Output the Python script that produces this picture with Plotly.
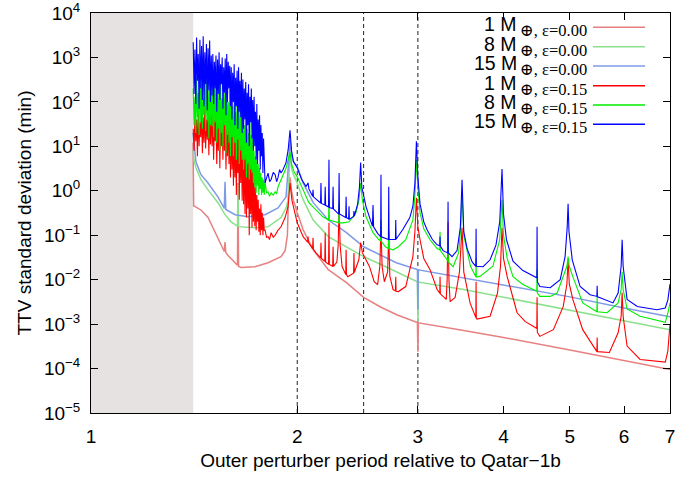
import plotly.graph_objects as go
import math

# ---------------- data ----------------
shade_x = [1.0, 1.41]
dashed_x = [2.0, 2.5, 3.0]

x_ticks = [1, 2, 3, 4, 5, 6, 7]
x_ticktext = ["1", "2", "3", "4", "5", "6", "7"]
y_ticks = [1e-5, 1e-4, 1e-3, 1e-2, 1e-1, 1e0, 1e1, 1e2, 1e3, 1e4]
y_ticktext = ["10<sup>\u22125</sup>", "10<sup>\u22124</sup>", "10<sup>\u22123</sup>",
              "10<sup>\u22122</sup>", "10<sup>\u22121</sup>", "10<sup>0</sup>",
              "10<sup>1</sup>", "10<sup>2</sup>", "10<sup>3</sup>", "10<sup>4</sup>"]

legend_mass = ["1", "8", "15", "1", "8", "15"]
legend_ecc = ["0.00", "0.00", "0.00", "0.15", "0.15", "0.15"]

# eccentricity 0.00 (smooth curves)
lr_x = [1.409, 1.412, 1.419, 1.447, 1.482, 1.517, 1.548, 1.565, 1.569, 1.573, 1.585, 1.623, 1.636,
        1.639, 1.642, 1.656, 1.735, 1.813, 1.894, 1.92, 1.935, 1.942, 1.952, 1.962, 1.975, 1.99, 2.0,
        2.04, 2.11, 2.22, 2.36, 2.5, 2.65, 2.8, 2.98, 2.995, 3.0, 3.005, 3.5, 4.0, 5.0, 6.0, 7.0]
lr_y = [12, 0.46, 0.44, 0.37, 0.25, 0.12, 0.061, 0.043, 0.07, 0.041, 0.035, 0.024, 0.021,
        1.5, 0.02, 0.0187, 0.0196, 0.024, 0.033, 0.045, 0.1, 0.8, 2.0, 1.0, 0.6, 0.42, 0.32,
        0.133, 0.047, 0.0168, 8.6e-3, 4e-3, 2.4e-3, 1.6e-3, 1.12e-3, 1.08e-3, 2.4e-4, 1.07e-3,
        7.2e-4, 5e-4, 2.6e-4, 1.5e-4, 9.5e-5]

lg_x = [1.409, 1.415, 1.423, 1.447, 1.482, 1.532, 1.569, 1.601, 1.636, 1.639, 1.642, 1.656, 1.735,
        1.813, 1.894, 1.925, 1.939, 1.946, 1.952, 1.962, 1.975, 1.99, 2.0, 2.04, 2.11, 2.22, 2.36,
        2.5, 2.65, 2.8, 2.995, 3.0, 3.005, 3.5, 4.0, 5.0, 6.0, 7.0]
lg_y = [8, 4.5, 3.3, 1.77, 1.05, 0.54, 0.29, 0.2, 0.16, 1.36, 0.156, 0.155, 0.148,
        0.155, 0.25, 0.4, 0.6, 2.5, 7, 3.2, 2.3, 1.8, 1.5, 0.63, 0.22, 0.093, 0.055,
        0.033, 0.022, 0.0145, 9e-3, 1.15e-3, 8.8e-3, 6e-3, 4e-3, 2.1e-3, 1.2e-3, 7.5e-4]

lb_x = [1.409, 1.415, 1.423, 1.447, 1.482, 1.532, 1.565, 1.569, 1.573, 1.623, 1.695, 1.795, 1.875,
        1.926, 1.939, 1.946, 1.952, 1.962, 1.975, 1.99, 2.0, 2.04, 2.11, 2.22, 2.36, 2.5, 2.63,
        2.79, 2.995, 3.0, 3.005, 3.5, 4.0, 5.0, 6.0, 7.0]
lb_y = [20, 9, 4.5, 2.3, 1.5, 0.73, 0.4, 1.6, 0.38, 0.29, 0.26, 0.29, 0.41,
        0.73, 2.5, 6, 14, 6, 4.5, 3.8, 3.5, 1.5, 0.54, 0.22, 0.114, 0.055, 0.037,
        0.024, 0.0168, 2.1e-3, 0.0166, 0.011, 7.7e-3, 4.1e-3, 2.3e-3, 1.46e-3]

# eccentricity 0.15: chaotic region sampled on a common grid
x_noise = [1.410, 1.414, 1.418, 1.422, 1.426, 1.430, 1.434, 1.438, 1.442, 1.446, 1.450, 1.454,
           1.458, 1.462, 1.466, 1.470, 1.474, 1.478, 1.482, 1.486, 1.490, 1.494, 1.498, 1.502,
           1.506, 1.510, 1.514, 1.518, 1.522, 1.526, 1.530, 1.534, 1.538, 1.542, 1.546, 1.550,
           1.554, 1.558, 1.562, 1.566, 1.570, 1.574, 1.578, 1.582, 1.586, 1.590, 1.594, 1.598,
           1.602, 1.606, 1.610, 1.614, 1.618, 1.622, 1.626, 1.630, 1.634, 1.638, 1.642, 1.646,
           1.650, 1.654, 1.658, 1.662, 1.666, 1.670, 1.674, 1.678, 1.682, 1.686, 1.690, 1.694,
           1.698, 1.702, 1.706, 1.710, 1.714, 1.718, 1.722, 1.726, 1.730, 1.734, 1.738, 1.742,
           1.746, 1.750, 1.754, 1.758, 1.762, 1.766, 1.770, 1.774, 1.778, 1.782, 1.786, 1.790]
blue_noise = [2200, 150, 1500, 90, 2800, 300, 1200, 70, 2500, 200, 1800, 110,
              3000, 80, 1300, 250, 2000, 65, 1600, 180, 2400, 100, 1100, 140,
              1200, 90, 800, 200, 1100, 60, 900, 150, 1300, 110, 700, 250,
              1000, 70, 600, 160, 950, 50, 1200, 100, 800, 200, 650, 80,
              600, 40, 450, 100, 700, 30, 350, 80, 500, 25, 600, 60,
              300, 45, 450, 20, 320, 25, 200, 40, 280, 12, 160, 30,
              250, 10, 130, 35, 200, 15, 110, 8, 130, 10, 60, 5,
              90, 4, 40, 8, 50, 3, 30, 6, 20, 2.5, 15, 3]
green_noise = [200, 30, 130, 20, 350, 45, 160, 18, 800, 35, 250, 25,
               120, 50, 600, 22, 300, 40, 180, 15, 500, 30, 220, 28,
               320, 16, 200, 35, 400, 12, 150, 25, 250, 8, 300, 20,
               120, 10, 220, 30, 160, 7, 260, 18, 100, 12, 200, 6,
               130, 16, 80, 6, 110, 12, 60, 5, 100, 14, 70, 4,
               90, 8, 50, 5, 50, 3, 30, 5, 40, 2, 25, 4,
               20, 1.8, 35, 3, 18, 2.5, 15, 1.5, 8, 1.2, 6, 0.9,
               5, 1.3, 4, 0.8, 3.2, 1.1, 2.5, 0.8, 2, 0.9, 1.8, 0.8]
red_noise = [25, 8, 50, 13, 40, 6, 63, 10, 35, 16, 56, 7,
             45, 12, 80, 9, 40, 14, 63, 6.3, 50, 11, 70, 10,
             50, 5, 40, 13, 63, 4, 35, 8, 55, 3.2, 45, 10,
             30, 5, 50, 8, 40, 3, 32, 6, 45, 4, 35, 2,
             40, 3, 25, 1.3, 32, 2, 20, 0.8, 30, 2.5, 22, 0.63,
             25, 1.5, 18, 0.6, 20, 0.5, 13, 0.3, 16, 0.25, 8, 0.4,
             10, 0.1, 6, 0.3, 5, 0.15, 4, 0.2, 2, 0.16, 1.2, 0.13,
             0.8, 0.2, 0.63, 0.12, 0.4, 0.1, 0.5, 0.13, 0.32, 0.1, 0.25, 0.13]

# eccentricity 0.15: resonant part (x, y) pairs
blue_tail = [(1.795, 1.5), (1.813, 2.5), (1.823, 1.6), (1.832, 1.8), (1.845, 2.6), (1.857, 2.3),
             (1.866, 1.6), (1.875, 2.0), (1.885, 3.0), (1.894, 2.5), (1.907, 3.0), (1.926, 4.3),
             (1.94, 8.4), (1.952, 23), (1.962, 8), (1.975, 4.5), (2.0, 3.3), (2.03, 1.8), (2.06, 1.25),
             (2.074, 1.5), (2.08, 1.1), (2.106, 0.75), (2.109, 1.05), (2.112, 0.73), (2.15, 0.57),
             (2.163, 0.53), (2.166, 1.5), (2.169, 0.52), (2.194, 0.48), (2.197, 1.23), (2.2, 0.47),
             (2.222, 0.43), (2.225, 5), (2.228, 0.42), (2.253, 0.4), (2.256, 1.23), (2.259, 0.39),
             (2.299, 0.3), (2.302, 2.5), (2.305, 0.3), (2.354, 0.25), (2.357, 0.73), (2.36, 0.25),
             (2.377, 0.23), (2.38, 0.45), (2.383, 0.23), (2.417, 0.26), (2.42, 0.35), (2.423, 0.27),
             (2.45, 0.5), (2.465, 1.2), (2.475, 4.3), (2.485, 1.2), (2.52, 0.44), (2.575, 0.16),
             (2.58, 0.48), (2.585, 0.155), (2.62, 0.11), (2.647, 0.093), (2.65, 2.3), (2.653, 0.092),
             (2.717, 0.08), (2.72, 1.23), (2.723, 0.08), (2.782, 0.08), (2.785, 0.22), (2.788, 0.081),
             (2.85, 0.133), (2.92, 0.25), (2.95, 0.45), (2.97, 1.5), (2.985, 13), (3.0, 2.0),
             (3.022, 0.5), (3.06, 0.2), (3.094, 0.133), (3.15, 0.08), (3.2, 0.061), (3.229, 0.058),
             (3.232, 0.093), (3.235, 0.057), (3.265, 0.045), (3.317, 0.04), (3.32, 0.57), (3.323, 0.04),
             (3.365, 0.033), (3.422, 0.045), (3.46, 0.15), (3.48, 1.77), (3.5, 0.12), (3.54, 0.05),
             (3.6, 0.025), (3.645, 0.02), (3.648, 0.14), (3.651, 0.02), (3.735, 0.0196), (3.824, 0.028),
             (3.9, 0.06), (3.95, 0.2), (3.98, 3.1), (4.0, 0.3), (4.04, 0.08), (4.13, 0.026),
             (4.27, 0.016), (4.42, 0.012), (4.474, 0.011), (4.478, 0.155), (4.482, 0.009), (4.52, 0.007),
             (4.68, 0.0066), (4.84, 0.01), (4.92, 0.033), (4.955, 0.15), (4.97, 0.51), (4.985, 0.12),
             (5.04, 0.028), (5.175, 0.007), (5.35, 0.0046), (5.475, 0.0042), (5.48, 0.0073),
             (5.485, 0.0041), (5.535, 0.0039), (5.78, 0.003), (5.88, 0.005), (5.94, 0.02), (5.96, 0.079),
             (5.98, 0.02), (6.06, 0.0036), (6.27, 0.0025), (6.7, 0.0021), (6.89, 0.0023),
             (6.95, 0.0035), (7.0, 0.008)]

green_tail = [(1.795, 1.6), (1.804, 0.9), (1.813, 0.95), (1.822, 0.75), (1.832, 0.9), (1.845, 0.8),
              (1.857, 0.95), (1.866, 0.85), (1.875, 1.23), (1.894, 1.77), (1.907, 2.3), (1.926, 3.2),
              (1.94, 5), (1.952, 7.5), (1.962, 4), (1.98, 2.6), (2.0, 2.06), (2.04, 1.05), (2.08, 0.54),
              (2.13, 0.37), (2.18, 0.26), (2.222, 0.22), (2.225, 0.63), (2.228, 0.22), (2.28, 0.2),
              (2.299, 0.19), (2.302, 0.54), (2.305, 0.19), (2.333, 0.19), (2.38, 0.2), (2.436, 0.32),
              (2.46, 0.6), (2.475, 1.5), (2.49, 0.6), (2.52, 0.26), (2.58, 0.114), (2.63, 0.08),
              (2.647, 0.075), (2.65, 0.22), (2.653, 0.073), (2.69, 0.055), (2.717, 0.05), (2.72, 0.133),
              (2.723, 0.05), (2.76, 0.047), (2.81, 0.055), (2.88, 0.079), (2.95, 0.22), (2.97, 0.8),
              (2.985, 5), (3.0, 1.2), (3.022, 0.32), (3.06, 0.14), (3.125, 0.079), (3.2, 0.05),
              (3.229, 0.047), (3.232, 0.12), (3.235, 0.045), (3.3, 0.03), (3.317, 0.026), (3.32, 0.1),
              (3.323, 0.025), (3.377, 0.0196), (3.44, 0.04), (3.465, 0.15), (3.48, 0.95), (3.5, 0.1),
              (3.58, 0.02), (3.645, 0.0117), (3.648, 0.03), (3.651, 0.0115), (3.7, 0.012), (3.86, 0.02),
              (3.95, 0.08), (3.98, 0.63), (4.0, 0.1), (4.05, 0.03), (4.13, 0.0117), (4.27, 0.0078),
              (4.42, 0.006), (4.474, 0.0055), (4.478, 0.0168), (4.482, 0.005), (4.52, 0.0042),
              (4.68, 0.0042), (4.79, 0.005), (4.89, 0.0117), (4.95, 0.02), (4.97, 0.033), (4.99, 0.02),
              (5.05, 0.0117), (5.22, 0.003), (5.475, 0.0019), (5.48, 0.004), (5.485, 0.0019),
              (5.665, 0.0018), (5.88, 0.003), (5.94, 0.006), (5.96, 0.015), (5.98, 0.006),
              (6.06, 0.0022), (6.33, 0.0015), (6.89, 0.0011), (6.95, 0.0018), (7.0, 0.003)]

red_tail = [(1.795, 0.13), (1.804, 0.09), (1.813, 0.093), (1.822, 0.08), (1.832, 0.114), (1.845, 0.09),
            (1.857, 0.1), (1.866, 0.12), (1.875, 0.13), (1.894, 0.155), (1.92, 0.25), (1.939, 0.44),
            (1.952, 1.5), (1.965, 0.6), (1.985, 0.3), (2.0, 0.19), (2.02, 0.133), (2.04, 0.093),
            (2.071, 0.07), (2.074, 0.093), (2.077, 0.068), (2.106, 0.05), (2.109, 0.088), (2.112, 0.048),
            (2.13, 0.04), (2.163, 0.031), (2.166, 0.068), (2.169, 0.03), (2.194, 0.026), (2.197, 0.114),
            (2.2, 0.025), (2.222, 0.022), (2.225, 0.19), (2.228, 0.022), (2.253, 0.02), (2.256, 0.055),
            (2.259, 0.02), (2.285, 0.025), (2.295, 0.06), (2.302, 0.44), (2.31, 0.06), (2.325, 0.02),
            (2.354, 0.013), (2.357, 0.047), (2.36, 0.013), (2.37, 0.0117), (2.417, 0.014), (2.42, 0.04),
            (2.423, 0.0145), (2.46, 0.028), (2.475, 0.068), (2.49, 0.04), (2.52, 0.028), (2.55, 0.0196),
            (2.59, 9e-3), (2.62, 7.7e-3), (2.64, 0.02), (2.65, 0.155), (2.66, 0.02), (2.68, 9e-3),
            (2.71, 0.015), (2.72, 0.114), (2.73, 0.012), (2.76, 6e-3), (2.782, 5.6e-3), (2.785, 0.0117),
            (2.788, 5.5e-3), (2.81, 5.4e-3), (2.88, 7e-3), (2.95, 0.033), (2.97, 0.12), (2.985, 0.7),
            (3.0, 0.15), (3.022, 0.079), (3.06, 0.03), (3.125, 0.0168), (3.2, 6e-3), (3.229, 5e-3),
            (3.232, 0.0117), (3.235, 4.8e-3), (3.3, 3.6e-3), (3.31, 0.01), (3.32, 0.2), (3.33, 0.01),
            (3.343, 3.2e-3), (3.4, 4e-3), (3.45, 0.015), (3.48, 0.148), (3.5, 0.015), (3.575, 3e-3),
            (3.645, 1.4e-3), (3.648, 9e-3), (3.651, 1.35e-3), (3.66, 1.3e-3), (3.824, 1.5e-3),
            (3.92, 5e-3), (3.96, 0.02), (3.98, 0.148), (4.0, 0.03), (4.05, 0.0117), (4.187, 1.8e-3),
            (4.3, 1.15e-3), (4.418, 8.7e-4), (4.474, 8e-4), (4.478, 4e-3), (4.482, 6.5e-4),
            (4.52, 5.3e-4), (4.73, 7.5e-4), (4.89, 2.5e-3), (4.95, 0.008), (4.97, 0.028), (4.99, 0.008),
            (5.05, 3.6e-3), (5.22, 7.5e-4), (5.475, 2.4e-4), (5.48, 5e-4), (5.485, 2.4e-4),
            (5.71, 2.3e-4), (5.88, 6.4e-4), (5.94, 1.5e-3), (5.96, 5.1e-3), (5.98, 1.5e-3),
            (6.06, 3.2e-4), (6.33, 1.6e-4), (6.89, 1.4e-4), (6.95, 2.5e-4), (7.0, 1e-3)]

# ---------------- styling ----------------
SANS = "Liberation Sans, Arial, Helvetica, sans-serif"
SERIF = "Liberation Serif, Times New Roman, DejaVu Serif, serif"
C_LR, C_LG, C_LB = "#e88080", "#8ce08c", "#7d9be6"
C_R, C_G, C_B = "#ff0000", "#00ee00", "#0000ff"

W, H = 695, 479
ML, MR, MT, MB = 91, 25, 13, 66
PW, PH = W - ML - MR, H - MT - MB

fig = go.Figure()

fig.add_trace(go.Scatter(x=[shade_x[0], shade_x[1], shade_x[1], shade_x[0], shade_x[0]],
                         y=[1e-5, 1e-5, 1e4, 1e4, 1e-5], mode="lines", fill="toself",
                         fillcolor="#e6e2e2", line=dict(width=0), hoverinfo="skip",
                         showlegend=False))
for xv in dashed_x:
    fig.add_trace(go.Scatter(x=[xv, xv], y=[1e-5, 1e4], mode="lines",
                             line=dict(color="#222222", width=1, dash="4px,3px"),
                             hoverinfo="skip", showlegend=False))


def unzip(pairs):
    return [p[0] for p in pairs], [p[1] for p in pairs]


bt_x, bt_y = unzip(blue_tail)
gt_x, gt_y = unzip(green_tail)
rt_x, rt_y = unzip(red_tail)

series = [
    (lr_x, lr_y, C_LR, 1.5),
    (lg_x, lg_y, C_LG, 1.5),
    (lb_x, lb_y, C_LB, 1.5),
    (x_noise + rt_x, red_noise + rt_y, C_R, 1.1),
    (x_noise + gt_x, green_noise + gt_y, C_G, 1.1),
    (x_noise + bt_x, blue_noise + bt_y, C_B, 1.1),
]
for xs, ys, col, w in series:
    fig.add_trace(go.Scatter(x=xs, y=ys, mode="lines", line=dict(color=col, width=w),
                             hoverinfo="skip", showlegend=False))

axis_common = dict(showline=True, linecolor="black", linewidth=1, mirror="ticks",
                   ticks="inside", ticklen=7, tickcolor="black", tickwidth=1,
                   showgrid=False, zeroline=False, ticklabeloverflow="allow",
                   tickfont=dict(family=SANS, size=19, color="black"))

fig.update_xaxes(type="log", range=[0, math.log10(7)], tickvals=x_ticks, ticktext=x_ticktext,
                 title=dict(text="Outer perturber period relative to Qatar\u22121b",
                            font=dict(family=SANS, size=19, color="black"), standoff=7),
                 ticklabelstandoff=6, **axis_common)
fig.update_yaxes(type="log", range=[-5, 4], tickvals=y_ticks, ticktext=y_ticktext,
                 title=dict(text="TTV standard deviation (min)",
                            font=dict(family=SANS, size=19, color="black"), standoff=7),
                 ticklabelstandoff=6, **axis_common)

# legend (text right-aligned, key line on the right, as in the original)
row_y = [27.3, 46.7, 66.0, 85.7, 105.0, 124.3]
key_cols = [C_LR, C_LG, C_LB, C_R, C_G, C_B]
shapes = []
annotations = []
for i in range(6):
    ly = row_y[i]
    yk = (H - MB - ly) / PH
    shapes.append(dict(type="line", xref="paper", yref="paper",
                       x0=(593 - ML) / PW, x1=(645 - ML) / PW, y0=yk, y1=yk,
                       line=dict(color=key_cols[i], width=1.5)))
    annotations.append(dict(xref="paper", yref="paper", x=(518 - ML) / PW,
                            y=(H - MB - (ly - 3.0)) / PH, xanchor="right", yanchor="middle",
                            text=legend_mass[i] + " M", showarrow=False, borderpad=0,
                            font=dict(family=SANS, size=19.5, color="black")))
    annotations.append(dict(xref="paper", yref="paper", x=(519 - ML) / PW,
                            y=(H - MB - (ly + 3.5)) / PH, xanchor="left", yanchor="middle",
                            text="\u2295, \u03b5=" + legend_ecc[i], showarrow=False, borderpad=0,
                            font=dict(family=SERIF, size=16.5, color="black")))

fig.update_layout(width=W, height=H, margin=dict(l=ML, r=MR, t=MT, b=MB, autoexpand=False),
                  plot_bgcolor="white", paper_bgcolor="white", showlegend=False,
                  shapes=shapes, annotations=annotations)

fig.write_html("out.html")
